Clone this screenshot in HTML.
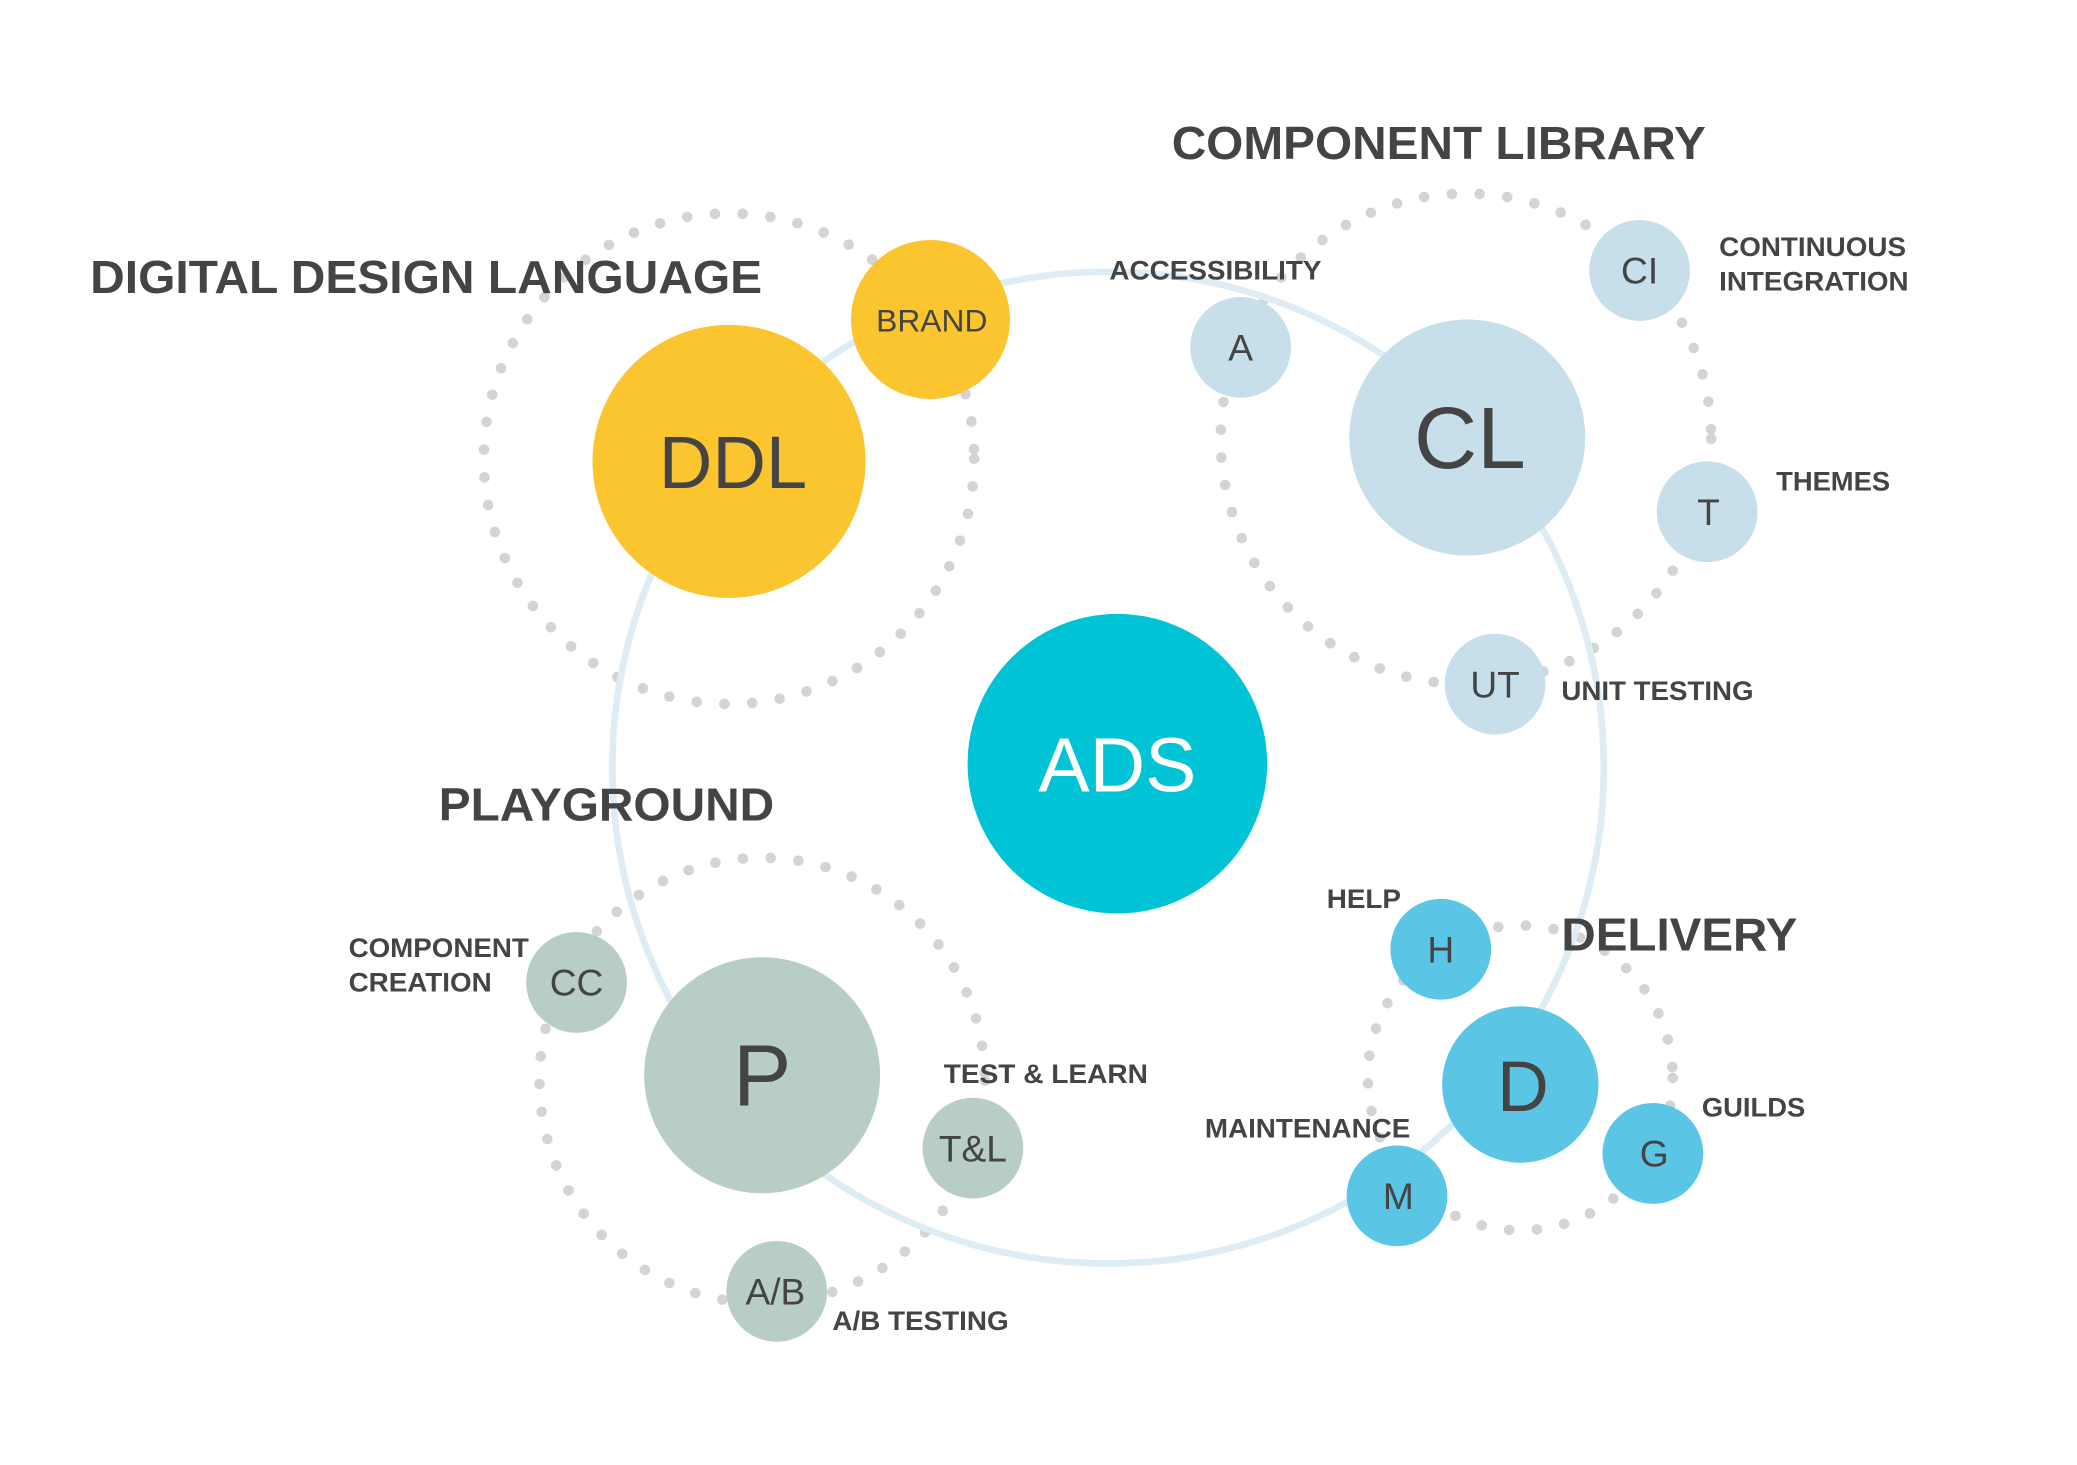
<!DOCTYPE html>
<html><head><meta charset="utf-8"><style>html,body{margin:0;padding:0;background:#fff}svg{display:block}</style></head>
<body>
<svg width="2077" height="1465" viewBox="0 0 1567 1105" preserveAspectRatio="none" xmlns="http://www.w3.org/2000/svg" font-family="Liberation Sans, Arial, sans-serif">
<rect width="1567" height="1105" fill="#fff"/>
<g fill="none" stroke="#d4d4d4" stroke-width="8" stroke-linecap="round" stroke-dasharray="0 21">
<circle cx="550" cy="346" r="185"/>
<circle cx="1106" cy="331" r="185"/>
<circle cx="575" cy="815" r="168"/>
<circle cx="1147" cy="813" r="115"/>
</g>
<circle cx="836" cy="579" r="374" fill="none" stroke="#deecf6" stroke-width="5"/>
<g fill="#fbc52f"><circle cx="550" cy="348" r="103"/><circle cx="702" cy="241" r="60"/></g>
<g fill="#c6dfea"><circle cx="1107" cy="330" r="89"/><circle cx="936" cy="262" r="38"/><circle cx="1237" cy="204" r="38"/><circle cx="1288" cy="386" r="38"/><circle cx="1128" cy="516" r="38"/></g>
<g fill="#b8cdc4"><circle cx="575" cy="811" r="89"/><circle cx="435" cy="741" r="38"/><circle cx="734" cy="866" r="38"/><circle cx="586" cy="974" r="38"/></g>
<g fill="#5bc5e6"><circle cx="1147" cy="818" r="59"/><circle cx="1087" cy="716" r="38"/><circle cx="1247" cy="870" r="38"/><circle cx="1054" cy="902" r="38"/></g>
<circle cx="843" cy="576" r="113" fill="#00c4d5"/>
<g fill="#444" text-anchor="middle">
<text x="843" y="597" font-size="58" fill="#fff">ADS</text>
<text x="553" y="368" font-size="56">DDL</text>
<text x="703" y="250" font-size="24">BRAND</text>
<text x="1109" y="353" font-size="66">CL</text>
<text x="575" y="834" font-size="66">P</text>
<text x="1149" y="838" font-size="54">D</text>
<g font-size="28">
<text x="936" y="272">A</text><text x="1237" y="214">CI</text><text x="1289" y="396">T</text><text x="1128" y="526">UT</text>
<text x="435" y="751">CC</text><text x="734" y="876">T&amp;L</text><text x="585" y="984">A/B</text>
<text x="1087" y="726">H</text><text x="1248" y="880">G</text><text x="1055" y="912">M</text>
</g>
</g>
<g fill="#444" font-weight="bold" font-size="35">
<text x="68" y="221" textLength="507" lengthAdjust="spacingAndGlyphs">DIGITAL DESIGN LANGUAGE</text>
<text x="884" y="120" textLength="403" lengthAdjust="spacingAndGlyphs">COMPONENT LIBRARY</text>
<text x="331" y="619" textLength="253" lengthAdjust="spacingAndGlyphs">PLAYGROUND</text>
<text x="1178" y="717" textLength="178" lengthAdjust="spacingAndGlyphs">DELIVERY</text>
</g>
<g fill="#444" font-weight="bold" font-size="20">
<text x="837" y="211" textLength="160" lengthAdjust="spacingAndGlyphs">ACCESSIBILITY</text>
<text x="1297" y="193" textLength="141" lengthAdjust="spacingAndGlyphs">CONTINUOUS</text>
<text x="1297" y="219" textLength="143" lengthAdjust="spacingAndGlyphs">INTEGRATION</text>
<text x="1340" y="370" textLength="86" lengthAdjust="spacingAndGlyphs">THEMES</text>
<text x="1178" y="528" textLength="145" lengthAdjust="spacingAndGlyphs">UNIT TESTING</text>
<text x="1001" y="685" textLength="56" lengthAdjust="spacingAndGlyphs">HELP</text>
<text x="1284" y="842" textLength="78" lengthAdjust="spacingAndGlyphs">GUILDS</text>
<text x="909" y="858" textLength="155" lengthAdjust="spacingAndGlyphs">MAINTENANCE</text>
<text x="712" y="817" textLength="154" lengthAdjust="spacingAndGlyphs">TEST &amp; LEARN</text>
<text x="263" y="722" textLength="136" lengthAdjust="spacingAndGlyphs">COMPONENT</text>
<text x="263" y="748" textLength="108" lengthAdjust="spacingAndGlyphs">CREATION</text>
<text x="628" y="1003" textLength="133" lengthAdjust="spacingAndGlyphs">A/B TESTING</text>
</g>
</svg>
</body></html>
